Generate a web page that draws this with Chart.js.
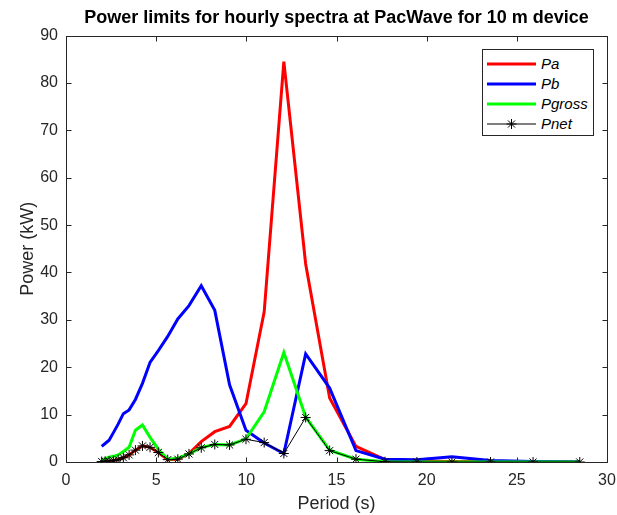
<!DOCTYPE html>
<html><head><meta charset="utf-8">
<script src="https://cdn.jsdelivr.net/npm/chart.js@4.4.1/dist/chart.umd.min.js"></script>
<style>
html,body{margin:0;padding:0;background:#fff;}
#wrap{position:relative;width:617px;height:515px;}
#legend{position:absolute;left:482px;top:49px;width:110px;height:85px;border:1px solid #262626;background:#fff;font:italic 15px "Liberation Sans",Arial,sans-serif;color:#000;}
.row{position:absolute;left:0;height:20px;width:110px}
.row svg{position:absolute;left:4px;top:0}
.row span{position:absolute;left:58px;top:0;line-height:20px;white-space:nowrap}
</style></head>
<body><div id="wrap"><canvas id="c" width="617" height="515" style="width:617px;height:515px"></canvas><div id="legend"></div></div>
<script>
const periods = [1.98, 2.17, 2.39, 2.63, 2.89, 3.18, 3.50, 3.85, 4.24, 4.66, 5.12, 5.64, 6.20, 6.82, 7.50, 8.25, 9.07, 9.98, 10.99, 12.08, 13.29, 14.62, 16.08, 17.69, 19.46, 21.40, 23.54, 25.90, 28.49];
const pa     = [0.1, 0.15, 0.2, 0.3, 0.5, 0.9, 1.5, 2.5, 3.4, 3.1, 2.0, 0.5, 0.6, 1.8, 4.3, 6.4, 7.5, 12.3, 31.7, 84.5, 41.8, 13.5, 3.3, 0.5, 0.2, 0.1, 0.05, 0, 0];
const pb     = [3.3, 3.9, 4.6, 6.2, 8.0, 10.2, 11.0, 13.2, 16.6, 21.0, 23.5, 26.5, 30.2, 33.0, 37.2, 32.0, 16.3, 6.7, 4.0, 1.8, 22.8, 15.6, 2.4, 0.6, 0.5, 1.1, 0.3, 0.1, 0.05];
const pgross = [0.5, 0.7, 1.0, 1.2, 1.5, 2.2, 3.1, 6.7, 7.8, 5.2, 2.7, 0.6, 0.8, 1.7, 3.1, 3.7, 3.6, 4.9, 10.6, 23.1, 9.5, 2.5, 0.6, 0.05, 0, 0, 0, 0, 0];
const pnet   = [0.1, 0.15, 0.2, 0.3, 0.5, 0.9, 1.5, 2.5, 3.4, 3.1, 2.0, 0.5, 0.6, 1.7, 3.0, 3.7, 3.6, 4.8, 4.1, 1.8, 9.4, 2.4, 0.6, 0.05, 0, 0, 0, 0, 0];
const seriesNames = ['Pa', 'Pb', 'Pgross', 'Pnet'];
const xTicks = [0, 5, 10, 15, 20, 25, 30];
const yTicks = [0, 10, 20, 30, 40, 50, 60, 70, 80, 90];

const FONT = '"Liberation Sans", Arial, Helvetica, sans-serif';
const AX = '#262626';
const pts = arr => arr.map((v, i) => ({x: periods[i], y: v}));

const styles = [
  {color: '#ff0000', width: 3, order: 3},
  {color: '#0000ff', width: 3, order: 2},
  {color: '#00ff00', width: 3, order: 1},
  {color: '#000000', width: 1, order: 0, star: true}
];
const values = [pa, pb, pgross, pnet];

const datasets = values.map((v, i) => ({
  label: seriesNames[i],
  data: pts(v),
  borderColor: styles[i].color,
  backgroundColor: styles[i].color,
  borderWidth: styles[i].width,
  tension: 0,
  order: styles[i].order,
  pointRadius: styles[i].star ? 5 : 0,
  pointStyle: styles[i].star ? 'star' : 'circle',
  pointBorderColor: '#000',
  pointBorderWidth: 1,
  pointHoverRadius: 0
}));

const boxPlugin = {
  id: 'box',
  beforeDatasetsDraw(chart) {
    const {ctx, chartArea: a, scales: {x, y}} = chart;
    ctx.save();
    ctx.strokeStyle = AX; ctx.lineWidth = 1;
    const L = Math.round(a.left) + 0.5, R = Math.round(a.right) + 0.5, T = Math.round(a.top) + 0.5, B = Math.round(a.bottom) + 0.5;
    ctx.strokeRect(L, T, R - L, B - T);
    ctx.beginPath();
    x.ticks.forEach(t => { const px = Math.round(x.getPixelForValue(t.value)) + 0.5; ctx.moveTo(px, B); ctx.lineTo(px, B - 5); ctx.moveTo(px, T); ctx.lineTo(px, T + 5); });
    y.ticks.forEach(t => { const py = Math.round(y.getPixelForValue(t.value)) + 0.5; ctx.moveTo(L, py); ctx.lineTo(L + 5, py); ctx.moveTo(R, py); ctx.lineTo(R - 5, py); });
    ctx.stroke();
    ctx.restore();
  }
};

new Chart(document.getElementById('c'), {
  type: 'line',
  data: {datasets},
  options: {
    responsive: false,
    animation: false,
    events: [],
    layout: {padding: {left: 0, right: 10, top: 0, bottom: 0}},
    plugins: {
      legend: {display: false},
      tooltip: {enabled: false},
      title: {
        display: true,
        fullSize: false,
        text: 'Power limits for hourly spectra at PacWave for 10 m device',
        color: '#000',
        font: {family: FONT, size: 18, weight: 'bold', lineHeight: 1.2},
        padding: {top: 7, bottom: 7}
      }
    },
    scales: {
      x: {
        type: 'linear', min: 0, max: 30,
        afterFit: s => { s.height = 53; s.paddingLeft = 0; s.paddingRight = 0; },
        afterBuildTicks: s => { s.ticks = xTicks.map(v => ({value: v})); },
        grid: {display: false, drawTicks: false, tickLength: 0},
        border: {display: false},
        ticks: {color: AX, font: {family: FONT, size: 16}, padding: 9, maxRotation: 0},
        title: {display: true, text: 'Period (s)', color: AX, font: {family: FONT, size: 18}, padding: {top: 0, bottom: 0}}
      },
      y: {
        type: 'linear', min: 0, max: 90,
        afterFit: s => { s.width = 66; s.paddingTop = 0; s.paddingBottom = 0; },
        afterBuildTicks: s => { s.ticks = yTicks.map(v => ({value: v})); },
        grid: {display: false, drawTicks: false, tickLength: 0},
        border: {display: false},
        ticks: {color: AX, font: {family: FONT, size: 16}, padding: 8},
        title: {display: true, text: 'Power (kW)', color: AX, font: {family: FONT, size: 18}, padding: {top: 17, bottom: 0}}
      }
    }
  },
  plugins: [boxPlugin]
});

// legend
const leg = document.getElementById('legend');
seriesNames.forEach((name, i) => {
  const st = styles[i];
  const row = document.createElement('div');
  row.className = 'row';
  row.style.top = (4 + i * 20) + 'px';
  let star = '';
  if (st.star) {
    const c = 24.5, r = 5, d = r * 0.707;
    star = `<path d="M${c-r} 10 H${c+r} M${c} ${10-r} V${10+r} M${c-d} ${10-d} L${c+d} ${10+d} M${c-d} ${10+d} L${c+d} ${10-d}" stroke="#000" stroke-width="1"/>`;
  }
  row.innerHTML = `<svg width="50" height="20"><line x1="0" y1="10" x2="49" y2="10" stroke="${st.color}" stroke-width="${st.width}"/>${star}</svg><span>${name}</span>`;
  leg.appendChild(row);
});
</script>
</body></html>
